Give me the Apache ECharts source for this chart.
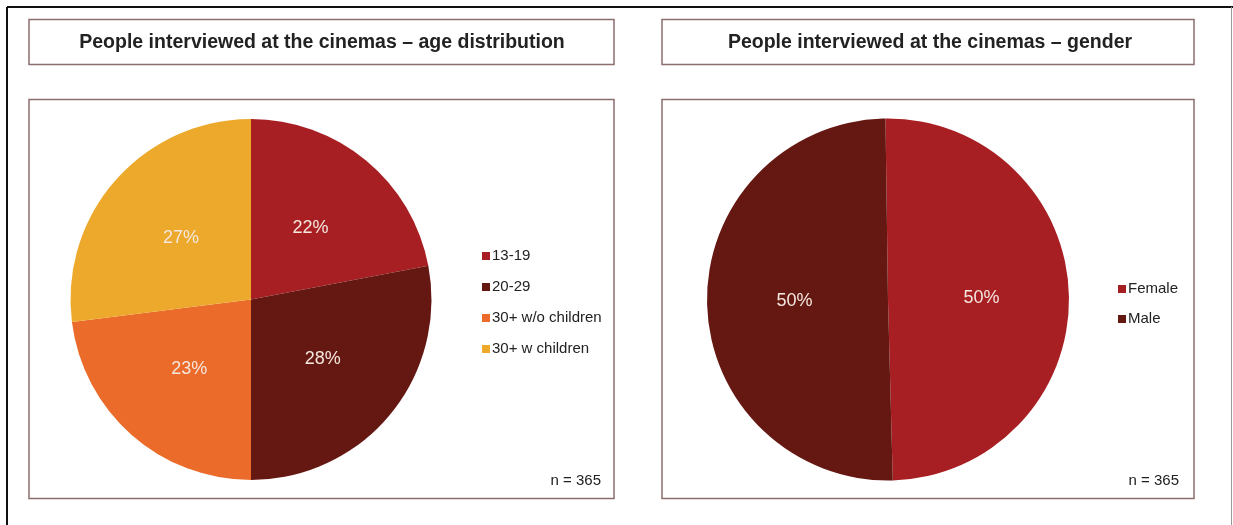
<!DOCTYPE html>
<html lang="en">
	<head>
		<meta charset="utf-8" />
		<title>Cinema interviews</title>
		<style>
			html, body { margin: 0; padding: 0; background: #fff; }
			#chart { width: 1233px; height: 525px; }
		</style>
	</head>
	<body>
		<div id="chart"></div>

		<script src="https://cdn.jsdelivr.net/npm/echarts@6/dist/echarts.min.js"></script>
		<script type="text/javascript">
			const ageCategories = ['13-19', '20-29', '30+ w/o children', '30+ w children'];
			const ageShares = [22, 28, 23, 27];
			const genderCategories = ['Female', 'Male'];
			const genderShares = [49.8, 50.2];
			const sampleNote = 'n = 365';

			const ageColors = ['#a81f23', '#651711', '#eb6b2a', '#eca92b'];
			const genderColors = ['#a81f23', '#651711'];
			const FONT = '"Liberation Sans", Arial, sans-serif';
			const BORDER = '#8c6e6e';

			function box(x, y, w, h) {
				return {
					type: 'rect',
					shape: { x: x, y: y, width: w, height: h },
					style: { fill: 'none', stroke: BORDER, lineWidth: 1.5 },
					silent: true,
				};
			}
			function label(x, y, text, opts) {
				return {
					type: 'text',
					x: x,
					y: y,
					style: Object.assign({ text: text, font: '14px ' + FONT, fill: '#222', align: 'center', verticalAlign: 'middle' }, opts || {}),
					silent: true,
				};
			}

			const pieLabel = {
				show: true,
				position: 'inside',
				formatter: '{d}%',
				color: '#f4e7de',
				fontSize: 18,
				fontFamily: FONT,
			};
			const legendText = { fontFamily: FONT, fontSize: 15, color: '#222', lineHeight: 16, padding: [0, 0, 0, -3] };

			const option = {
				animation: false,
				backgroundColor: '#fff',
				legend: [
					{
						data: ageCategories,
						orient: 'vertical',
						left: 482,
						top: 248,
						padding: 0,
						icon: 'rect',
						itemWidth: 8,
						itemHeight: 8,
						itemGap: 15,
						selectedMode: false,
						textStyle: legendText,
					},
					{
						data: genderCategories,
						orient: 'vertical',
						left: 1118,
						top: 281,
						padding: 0,
						icon: 'rect',
						itemWidth: 8,
						itemHeight: 8,
						itemGap: 14,
						selectedMode: false,
						textStyle: legendText,
					},
				],
				series: [
					{
						type: 'pie',
						center: [251, 299.5],
						radius: 180.5,
						startAngle: 90,
						clockwise: true,
						percentPrecision: 0,
						label: pieLabel,
						labelLine: { show: false },
						emphasis: { disabled: true },
						data: ageCategories.map((name, i) => ({ name: name, value: ageShares[i], itemStyle: { color: ageColors[i] } })),
					},
					{
						type: 'pie',
						center: [888, 299.5],
						radius: 181,
						startAngle: 90.8,
						clockwise: true,
						percentPrecision: 0,
						label: pieLabel,
						labelLine: { show: false },
						emphasis: { disabled: true },
						data: genderCategories.map((name, i) => ({ name: name, value: genderShares[i], itemStyle: { color: genderColors[i] } })),
					},
				],
				graphic: [
					{ type: 'line', shape: { x1: 7, y1: 7, x2: 1233, y2: 7 }, style: { stroke: '#111', lineWidth: 2 }, silent: true },
					{ type: 'line', shape: { x1: 7, y1: 7, x2: 7, y2: 525 }, style: { stroke: '#111', lineWidth: 2 }, silent: true },
					{ type: 'line', shape: { x1: 1231.5, y1: 7, x2: 1231.5, y2: 525 }, style: { stroke: '#999', lineWidth: 1 }, silent: true },
					box(29, 19.5, 585, 45),
					box(29, 99.5, 585, 399),
					box(662, 19.5, 532, 45),
					box(662, 99.5, 532, 399),
					label(322, 43, 'People interviewed at the cinemas \u2013 age distribution', { font: 'bold 19.5px ' + FONT }),
					label(930, 43, 'People interviewed at the cinemas \u2013 gender', { font: 'bold 19.5px ' + FONT }),
					label(601, 481, sampleNote, { font: '15px ' + FONT, align: 'right' }),
					label(1179, 481, sampleNote, { font: '15px ' + FONT, align: 'right' }),
				],
			};

			const chart = echarts.init(document.getElementById('chart'));
			chart.setOption(option);
		</script>
	</body>
</html>
